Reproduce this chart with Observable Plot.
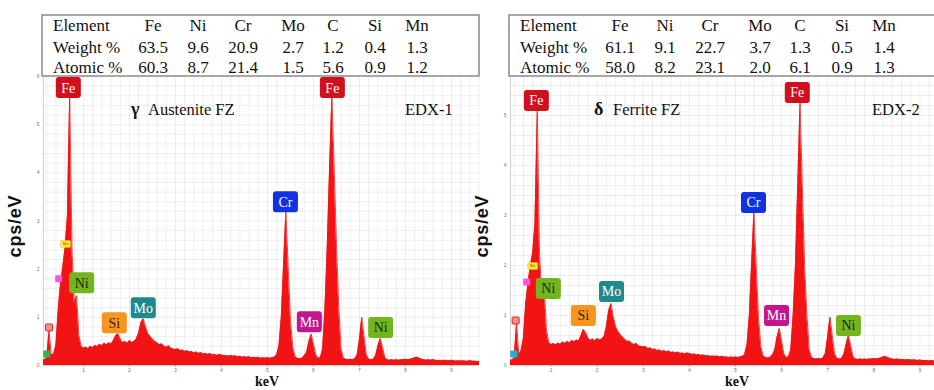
<!DOCTYPE html>
<html><head><meta charset="utf-8">
<script src="https://cdn.jsdelivr.net/npm/d3@7"></script>
<script src="https://cdn.jsdelivr.net/npm/@observablehq/plot@0.6"></script>
<style>
body{margin:0;background:#fff;}
#chart{position:relative;width:934px;height:390px;overflow:hidden;background:#fff;}
#chart > svg{position:absolute;top:0;}
</style>
</head><body>
<div id="chart"></div>
<script>
// ---------- DATA ----------
const elements = ["Fe","Ni","Cr","Mo","C","Si","Mn"];
const weight1 = [63.5, 9.6, 20.9, 2.7, 1.2, 0.4, 1.3];
const atomic1 = [60.3, 8.7, 21.4, 1.5, 5.6, 0.9, 1.2];
const weight2 = [61.1, 9.1, 22.7, 3.7, 1.3, 0.5, 1.4];
const atomic2 = [58.0, 8.2, 23.1, 2.0, 6.1, 0.9, 1.3];

const titles = [["γ", "Austenite FZ", "EDX-1"], ["δ", "Ferrite FZ", "EDX-2"]];

// energy channels (keV)
const energies = [
  0.10,0.15,0.20,0.25,0.30,0.35,0.40,0.45,0.50,0.55,0.60,0.65,0.70,0.75,0.80,0.85,0.90,0.95,
  1.00,1.05,1.10,1.15,1.20,1.25,1.30,1.35,1.40,1.45,1.50,1.55,1.60,1.65,1.70,1.75,1.80,1.85,1.90,1.95,
  2.00,2.05,2.10,2.15,2.20,2.25,2.30,2.35,2.40,2.45,2.50,2.55,2.60,2.65,2.70,2.75,2.80,2.85,2.90,2.95,
  3.00,3.05,3.10,3.15,3.20,3.25,3.30,3.35,3.40,3.45,3.50,3.55,3.60,3.65,3.70,3.75,3.80,3.85,3.90,3.95,
  4.00,4.05,4.10,4.15,4.20,4.25,4.30,4.35,4.40,4.45,4.50,4.55,4.60,4.65,4.70,4.75,4.80,4.85,4.90,4.95,
  5.00,5.05,5.10,5.15,5.20,5.25,5.30,5.35,5.40,5.45,5.50,5.55,5.60,5.65,5.70,5.75,5.80,5.85,5.90,5.95,
  6.00,6.05,6.10,6.15,6.20,6.25,6.30,6.35,6.40,6.45,6.50,6.55,6.60,6.65,6.70,6.75,6.80,6.85,6.90,6.95,
  7.00,7.05,7.10,7.15,7.20,7.25,7.30,7.35,7.40,7.45,7.50,7.55,7.60,7.65,7.70,7.75,7.80,7.85,7.90,7.95,
  8.00,8.05,8.10,8.15,8.20,8.25,8.30,8.35,8.40,8.45,8.50,8.55,8.60,8.65,8.70,8.75,8.80,8.85,8.90,8.95,
  9.00,9.05,9.10,9.15,9.20,9.25,9.30,9.35,9.40,9.45,9.50,9.55,9.60,9.65
];
// EDX-1 counts (cps/eV)
const counts1 = [
  0.10,0.12,0.16,0.72,0.22,0.24,0.42,1.15,1.70,2.05,2.45,3.10,5.65,2.40,1.30,1.45,0.62,0.40,
  0.36,0.38,0.35,0.40,0.37,0.42,0.39,0.44,0.41,0.46,0.43,0.47,0.44,0.52,0.62,0.66,0.55,0.47,0.50,0.46,
  0.52,0.48,0.50,0.55,0.68,0.90,0.97,0.80,0.66,0.60,0.55,0.50,0.47,0.43,0.45,0.40,0.38,0.41,0.36,0.34,
  0.33,0.35,0.31,0.32,0.29,0.31,0.28,0.29,0.26,0.28,0.25,0.27,0.24,0.25,0.23,0.25,0.22,0.23,0.21,0.23,
  0.22,0.20,0.21,0.19,0.21,0.19,0.20,0.18,0.19,0.17,0.18,0.17,0.18,0.16,0.17,0.16,0.17,0.15,0.16,0.15,
  0.16,0.15,0.16,0.17,0.22,0.42,1.00,2.10,3.20,2.05,0.95,0.38,0.18,0.15,0.14,0.15,0.20,0.27,0.50,0.65,
  0.45,0.22,0.15,0.16,0.35,1.20,2.50,4.10,5.60,4.10,2.50,1.20,0.35,0.15,0.13,0.12,0.13,0.12,0.14,0.22,
  0.55,1.00,0.60,0.22,0.13,0.12,0.13,0.20,0.40,0.56,0.38,0.17,0.12,0.11,0.12,0.11,0.12,0.11,0.12,0.12,
  0.13,0.12,0.13,0.14,0.16,0.17,0.15,0.13,0.12,0.11,0.12,0.11,0.12,0.11,0.10,0.11,0.10,0.11,0.10,0.10,
  0.11,0.10,0.09,0.10,0.09,0.10,0.09,0.09,0.10,0.09,0.09,0.08,0.09,0.08
];
// EDX-2 counts (cps/eV)
const counts2 = [
  0.10,0.11,0.15,0.85,0.22,0.30,0.55,1.25,1.65,2.00,2.25,2.85,5.10,2.20,1.40,1.60,0.70,0.46,
  0.42,0.44,0.41,0.45,0.42,0.47,0.44,0.48,0.45,0.50,0.47,0.51,0.49,0.60,0.72,0.66,0.55,0.50,0.53,0.49,
  0.54,0.51,0.53,0.58,0.78,1.10,1.24,0.98,0.78,0.68,0.62,0.57,0.52,0.48,0.49,0.44,0.42,0.44,0.39,0.38,
  0.37,0.38,0.34,0.35,0.32,0.33,0.30,0.31,0.28,0.30,0.27,0.29,0.26,0.27,0.25,0.27,0.24,0.25,0.23,0.25,
  0.24,0.22,0.23,0.21,0.22,0.20,0.21,0.19,0.20,0.18,0.19,0.18,0.19,0.17,0.18,0.17,0.17,0.16,0.17,0.16,
  0.17,0.16,0.17,0.18,0.22,0.42,1.00,2.05,3.07,2.00,0.95,0.38,0.19,0.16,0.15,0.16,0.21,0.30,0.56,0.74,
  0.50,0.23,0.16,0.17,0.32,1.00,2.00,3.60,5.25,3.60,2.00,1.00,0.32,0.16,0.14,0.13,0.14,0.13,0.15,0.24,
  0.58,0.97,0.60,0.24,0.14,0.13,0.14,0.22,0.42,0.60,0.40,0.18,0.13,0.12,0.13,0.12,0.13,0.12,0.13,0.13,
  0.14,0.13,0.14,0.15,0.17,0.18,0.16,0.14,0.13,0.12,0.13,0.12,0.12,0.12,0.11,0.12,0.11,0.11,0.11,0.10,
  0.11,0.10,0.10,0.10,0.09,0.10,0.09,0.09,0.09,0.09,0.09,0.08,0.09,0.08
];

// peak labels
const labelNames = ["Fe","Ni","Si","Mo","Cr","Mn","Fe","Ni"];
const labelKeV1 = [0.67, 0.96, 1.67, 2.30, 5.39, 5.91, 6.41, 7.46];
const labelCps1 = [5.77, 1.72, 0.89, 1.20, 3.40, 0.91, 5.77, 0.79];
const labelKeV2 = [0.68, 0.94, 1.70, 2.31, 5.39, 5.89, 6.34, 7.45];
const labelCps2 = [5.30, 1.54, 1.00, 1.48, 3.26, 1.00, 5.46, 0.80];

// small markers
const markerNames = ["Mn", "", "", ""];
const markerKeV1 = [0.61, 0.46, 0.25, 0.20];
const markerCps1 = [2.52, 1.80, 0.79, 0.24];
const markerKeV2 = [0.60, 0.47, 0.23, 0.19];
const markerCps2 = [1.99, 1.67, 0.90, 0.23];

// ---------- STYLE ----------
const boxFill = {Fe:"#d20f1c", Cr:"#1131e4", Mn:"#c3168d", Ni:"#72b51e", Mo:"#1f8a8e", Si:"#f7961e"};
const boxText = {Fe:"#ffffff", Cr:"#ffffff", Mn:"#ffffff", Ni:"#1a2800", Mo:"#ffffff", Si:"#3a2200"};
const markerFill1 = ["#ffea3c", "#ff52e6", "#f59090", "#25b948"];
const markerFill2 = ["#ffea3c", "#ff52e6", "#f59090", "#22b2c6"];
const RED = "#f21414";

function roundRect(w, h, r) {
  return {draw(ctx) {
    const x0 = -w/2, y0 = -h/2, x1 = w/2, y1 = h/2;
    ctx.moveTo(x0 + r, y0);
    ctx.lineTo(x1 - r, y0); ctx.arcTo(x1, y0, x1, y0 + r, r);
    ctx.lineTo(x1, y1 - r); ctx.arcTo(x1, y1, x1 - r, y1, r);
    ctx.lineTo(x0 + r, y1); ctx.arcTo(x0, y1, x0, y1 - r, r);
    ctx.lineTo(x0, y0 + r); ctx.arcTo(x0, y0, x0 + r, y0, r);
    ctx.closePath();
  }};
}
const bigBox = roundRect(25, 21, 3);
const smallBox = roundRect(7, 7, 1);
const yellowBox = roundRect(10, 7, 1);

const chart = document.getElementById("chart");

function panel(opts) {
  const spec = energies.map((e, i) => ({e, c: opts.counts[i]}));
  const labels = labelNames.map((n, i) => ({n, x: opts.lx[i], y: opts.ly[i], fill: boxFill[n], tc: boxText[n]}));
  const markers = markerNames.map((n, i) => ({n, x: opts.mx[i], y: opts.my[i], fill: opts.mf[i], i}));
  const [x0, x1] = opts.xdom, [y0, y1] = opts.ydom;
  const gx = d3.range(0, 10, 0.2).filter(v => v > x0 && v < x1);
  const gy = d3.range(0.2, y1, 0.2);
  const svg = Plot.plot({
    width: 480, height: 390,
    marginLeft: 43, marginRight: 1, marginTop: 76, marginBottom: 25,
    style: {background: "transparent", fontFamily: "Liberation Sans, Arial, sans-serif", fontSize: "5px", color: "#777"},
    x: {domain: opts.xdom, ticks: 9, tickSize: 1.5, tickPadding: 1, label: null},
    y: {domain: opts.ydom, ticks: 6, tickSize: 0, tickPadding: 4, label: null},
    color: {type: "identity"},
    marks: [
      Plot.ruleX(gx, {stroke: "#e2e2e2", strokeWidth: 0.6}),
      Plot.ruleY(gy, {stroke: "#e2e2e2", strokeWidth: 0.6}),
      Plot.ruleX([x0], {stroke: "#c4c4c4", strokeWidth: 0.8}),
      Plot.areaY(spec, {x: "e", y: "c", fill: RED, clip: true}),
      Plot.lineY(spec, {x: "e", y: "c", stroke: RED, strokeWidth: 0.8, clip: true}),
      Plot.ruleY([0], {stroke: "#bbbbbb", strokeWidth: 0.6}),
      Plot.dot(markers.filter(d => d.i === 0), {x: "x", y: "y", symbol: yellowBox, fill: "fill", stroke: "#e0c020", strokeWidth: 0.5}),
      Plot.dot(markers.filter(d => d.i > 0), {x: "x", y: "y", symbol: smallBox, fill: "fill", stroke: d => d.i === 2 ? "#e02020" : "none", strokeWidth: 1}),
      Plot.text(markers.filter(d => d.n), {x: "x", y: "y", text: "n", fontSize: 4, fill: "#7a6000"}),
      Plot.dot(labels, {x: "x", y: "y", symbol: bigBox, fill: "fill"}),
      Plot.text(labels, {x: "x", y: "y", text: "n", fill: "tc", fontSize: 14, fontFamily: "Liberation Serif, Times New Roman, serif", dy: 0.5})
    ]
  });
  svg.style.left = opts.left + "px";
  chart.appendChild(svg);
}

panel({left: 0, counts: counts1, lx: labelKeV1, ly: labelCps1, mx: markerKeV1, my: markerCps1, mf: markerFill1,
       xdom: [0.13, 9.609], ydom: [0, 6.0]});
panel({left: 467, counts: counts2, lx: labelKeV2, ly: labelCps2, mx: markerKeV2, my: markerCps2, mf: markerFill2,
       xdom: [0.119, 9.577], ydom: [0, 5.78]});

// ---------- TEXT OVERLAY (tables, titles, axis labels) ----------
const ov = d3.create("svg").attr("width", 934).attr("height", 390)
  .style("left", "0px").style("pointer-events", "none")
  .attr("font-family", "Liberation Serif, Times New Roman, serif").attr("fill", "#111");
const colX = [153, 198, 243, 293, 333, 375, 417];
const tables = [[weight1, atomic1], [weight2, atomic2]];
[0, 467].forEach((ox, p) => {
  ov.append("rect").attr("x", ox + 42).attr("y", 15).attr("width", 437).attr("height", 61)
    .attr("fill", "none").attr("stroke", "#8a8a8a").attr("stroke-width", 1.5);
  const rows = [["Element", elements], ["Weight %", tables[p][0].map(v => v.toFixed(1))], ["Atomic %", tables[p][1].map(v => v.toFixed(1))]];
  const base = [31, 53, 73];
  rows.forEach(([head, vals], r) => {
    ov.append("text").attr("x", ox + 53).attr("y", base[r]).attr("font-size", 17).text(head);
    vals.forEach((v, i) => ov.append("text").attr("x", ox + colX[i]).attr("y", base[r])
      .attr("font-size", 17).attr("text-anchor", "middle").text(v));
  });
  const [g, t, id] = titles[p];
  ov.append("text").attr("x", ox + (p ? 127 : 131)).attr("y", 115).attr("font-size", 18).attr("font-weight", "bold").text(g);
  ov.append("text").attr("x", ox + (p ? 146 : 148)).attr("y", 115).attr("font-size", 16.5).text(t);
  ov.append("text").attr("x", ox + 405).attr("y", 115).attr("font-size", 16.5).text(id);
  ov.append("text").attr("transform", `translate(${ox + 21},226) rotate(-90)`).attr("text-anchor", "middle")
    .attr("font-family", "Liberation Sans, Arial, sans-serif").attr("font-weight", "bold")
    .attr("font-size", 18).attr("letter-spacing", 0.8).text("cps/eV");
  ov.append("text").attr("x", ox + (p ? 270 : 267)).attr("y", 386).attr("text-anchor", "middle")
    .attr("font-weight", "bold").attr("font-size", 14).text("keV");
});
chart.appendChild(ov.node());
</script>
</body></html>
